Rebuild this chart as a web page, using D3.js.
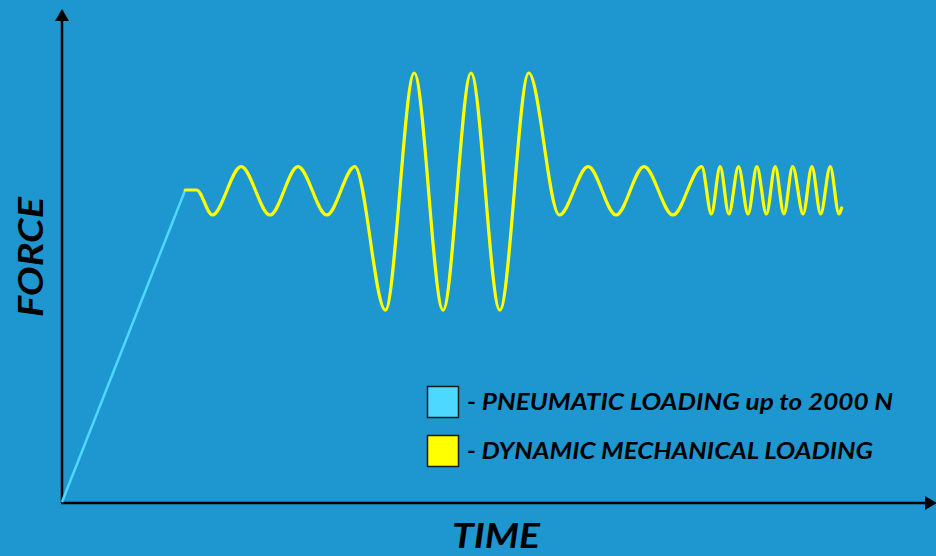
<!DOCTYPE html>
<html>
<head>
<meta charset="utf-8">
<script src="https://cdn.jsdelivr.net/npm/d3@7"></script>
<style>
html,body{margin:0;padding:0;background:#1e97d0;}
svg{display:block;}
</style>
</head>
<body>
<svg id="chart" width="936" height="556"></svg>
<script>
// Pneumatic loading ramp (time units, force in N)
const pneumaticTime  = [0, 14.1];
const pneumaticForce = [0, 2000];

// Dynamic mechanical loading: extrema
const dynamicTime = [14.1, 15.4, 17.2, 20.5, 23.8, 27.0, 30.3, 33.5,
  37.0, 40.3, 43.6, 46.8, 50.1, 53.4,
  56.9, 60.2, 63.4, 66.6, 69.9, 73.2,
  74.3, 75.3, 76.3, 77.4, 78.5, 79.5, 80.6, 81.6, 82.6, 83.6, 84.8, 85.8, 86.8, 87.9, 88.9, 89.2];
const dynamicForce = [2000, 2000, 1840, 2150, 1840, 2150, 1840, 2150,
  1230, 2750, 1230, 2750, 1230, 2750,
  1840, 2150, 1840, 2150, 1840, 2150,
  1846, 2150, 1846, 2150, 1846, 2150, 1846, 2150, 1846, 2150, 1846, 2150, 1846, 2150, 1846, 1885];

const legendLabels = ["- PNEUMATIC LOADING up to 2000 N", "- DYNAMIC MECHANICAL LOADING"];
const legendColors = ["#4dd8ff", "#ffff00"];
const axisTitles = {x: "TIME", y: "FORCE"};

const svg = d3.select("#chart");
const W = 936, H = 556;

svg.append("rect").attr("width", W).attr("height", H).attr("fill", "#1e97d0");

const x = d3.scaleLinear().domain([0, 100]).range([62, 936]);
const y = d3.scaleLinear().domain([0, 2000]).range([502, 190]);

// axes
const axisColor = "#000";
svg.append("line")
  .attr("x1", x(0)).attr("y1", y(0) + 1)
  .attr("x2", x(0)).attr("y2", 20)
  .attr("stroke", axisColor).attr("stroke-width", 2.5);
svg.append("path")
  .attr("d", `M${x(0)},9 L${x(0) - 7},21 L${x(0) + 7},21 Z`)
  .attr("fill", axisColor);

svg.append("line")
  .attr("x1", x(0) - 1).attr("y1", y(0) + 1)
  .attr("x2", 926).attr("y2", y(0) + 1)
  .attr("stroke", axisColor).attr("stroke-width", 2.5);
svg.append("path")
  .attr("d", `M937,${y(0) + 1} L925,${y(0) + 1 - 7} L925,${y(0) + 1 + 7} Z`)
  .attr("fill", axisColor);

// lines
const line = d3.line().x(d => x(d[0])).y(d => y(d[1]));
const dynLine = d3.line().x(d => x(d[0])).y(d => y(d[1])).curve(d3.curveMonotoneX);

svg.append("path")
  .datum(pneumaticTime.map((t, i) => [t, pneumaticForce[i]]))
  .attr("d", line)
  .attr("fill", "none")
  .attr("stroke", legendColors[0])
  .attr("stroke-width", 2.5);

svg.append("path")
  .datum(dynamicTime.map((t, i) => [t, dynamicForce[i]]))
  .attr("d", dynLine)
  .attr("fill", "none")
  .attr("stroke", legendColors[1])
  .attr("stroke-width", 3.2)
  .attr("stroke-linejoin", "round")
  .attr("stroke-linecap", "round");

// legend
const font = "Lato, 'Open Sans', sans-serif";
const leg = svg.append("g");
legendLabels.forEach((lab, i) => {
  const yy = 386 + i * 49;
  leg.append("rect")
    .attr("x", 427.5).attr("y", yy + 0.5)
    .attr("width", 31).attr("height", 31)
    .attr("fill", legendColors[i])
    .attr("stroke", "#1a1a1a").attr("stroke-width", 1.5);
  leg.append("text")
    .attr("x", 467).attr("y", yy + 24)
    .attr("font-family", font)
    .attr("font-weight", "bold").attr("font-style", "italic")
    .attr("font-size", 23)
    .attr("fill", "#000")
    .attr("textLength", i === 0 ? 426 : 406)
    .attr("lengthAdjust", "spacingAndGlyphs")
    .text(lab);
});

// axis titles
svg.append("text")
  .attr("x", 496).attr("y", 548)
  .attr("text-anchor", "middle")
  .attr("font-family", font)
  .attr("font-weight", "bold").attr("font-style", "italic")
  .attr("font-size", 34)
  .attr("fill", "#000")
  .attr("textLength", 88)
  .attr("lengthAdjust", "spacingAndGlyphs")
  .text(axisTitles.x);

svg.append("text")
  .attr("transform", "translate(43,257) rotate(-90)")
  .attr("text-anchor", "middle")
  .attr("font-family", font)
  .attr("font-weight", "bold").attr("font-style", "italic")
  .attr("font-size", 35)
  .attr("fill", "#000")
  .attr("textLength", 120)
  .attr("lengthAdjust", "spacingAndGlyphs")
  .text(axisTitles.y);
</script>
</body>
</html>
